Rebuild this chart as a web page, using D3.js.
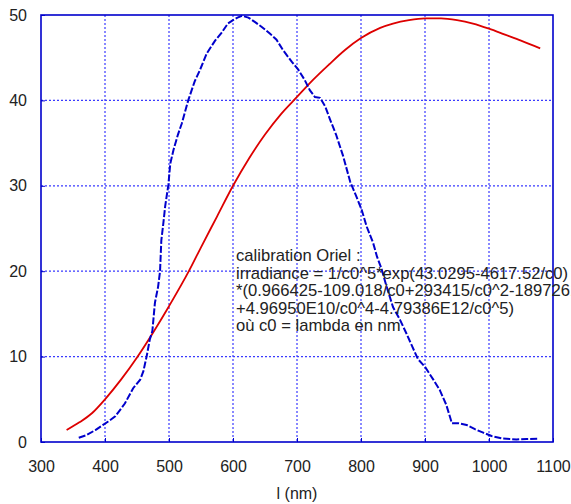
<!DOCTYPE html>
<html>
<head>
    <meta charset="utf-8">
    <title>calibration Oriel</title>
    <script src="https://cdn.jsdelivr.net/npm/d3@7/dist/d3.min.js"></script>
    <style>
        body { margin: 0; background: #fff; }
        text { font-family: "Liberation Sans", Arial, sans-serif; fill: #222; }
    </style>
</head>
<body>
<script>
// Axis ticks
var xTicks = [300, 400, 500, 600, 700, 800, 900, 1000, 1100];
var yTicks = [0, 10, 20, 30, 40, 50];

// Measured lamp spectrum (blue, dashed)
var measuredNm = [359, 371, 385, 397, 405, 416, 431, 444, 455, 460, 465, 470, 474, 478, 483, 486, 488, 491, 494, 499,
    502, 507, 514, 520, 530, 540, 548, 559, 572, 582, 592, 600, 607, 614, 624, 634, 645, 658, 668, 678,
    692, 702, 712, 720, 728, 736, 744, 752, 761, 772, 783, 793, 801, 809, 819, 825, 832, 840, 850, 861,
    871, 880, 889, 900, 913, 923, 933, 938, 942, 952, 965, 978, 991, 1004, 1022, 1043, 1059, 1078];
var measuredVal = [0.5, 0.8, 1.4, 2.0, 2.4, 3.0, 4.5, 6.3, 7.3, 8.3, 10, 12, 13, 16.3, 18.2, 20, 23.6, 25.5, 27.6, 30.1,
    32.6, 34.2, 36, 37.3, 40, 42.2, 43.5, 45.5, 47, 47.9, 49, 49.4, 49.7, 49.9, 49.7, 49.2, 48.6, 47.8, 47.1, 45.9,
    44.5, 43.6, 42.4, 41.2, 40.4, 40.3, 39.3, 37.7, 36, 33.5, 30.5, 28.7, 27.2, 25.2, 23.3, 21.7, 20.3, 18.2, 15.8, 14.3,
    12.7, 11.2, 9.7, 8.8, 7.3, 6.1, 4.4, 3.2, 2.2, 2.2, 2.0, 1.5, 1.1, 0.7, 0.4, 0.3, 0.35, 0.4];

// Oriel calibration curve (red)
var calibNm = [340, 360, 380, 400, 425, 450, 475, 500, 531, 550, 575, 600, 625, 650, 675, 700, 725, 750, 775, 800,
    830, 850, 875, 900, 925, 950, 975, 1000, 1025, 1050, 1080];
var calibVal = [1.4, 2.3, 3.4, 5.0, 7.3, 9.9, 12.8, 15.9, 20, 22.8, 26.4, 30, 33.2, 36, 38.4, 40.4, 42.4, 44.2, 45.9, 47.3,
    48.5, 49.0, 49.4, 49.6, 49.6, 49.4, 49.0, 48.4, 47.7, 47.0, 46.1];

var noteLines = [
    'calibration Oriel :',
    'irradiance = 1/c0^5*exp(43.0295-4617.52/c0)',
    '*(0.966425-109.018/c0+293415/c0^2-1897261/c0^3',
    '+4.96950E10/c0^4-4.79386E12/c0^5)',
    'où c0 = lambda en nm'
];
var xLabel = 'l (nm)';

var width = 571, height = 504;
// plot box (don't call it "top", that's window.top)
var pLeft = 41, pRight = 553, pTop = 15, pBottom = 442;
var blue = '#0000cc', grid = '#3a3aff', red = '#dd0000';

var svg = d3.select('body').append('svg')
    .attr('width', width)
    .attr('height', height);

var x = d3.scaleLinear().domain([300, 1100]).range([pLeft, pRight]);
var y = d3.scaleLinear().domain([0, 50]).range([pBottom, pTop]);

// dotted grid
svg.append('g').selectAll('line')
    .data(xTicks.slice(1, -1))
    .enter().append('line')
    .attr('x1', function(d) { return x(d); })
    .attr('x2', function(d) { return x(d); })
    .attr('y1', pTop).attr('y2', pBottom)
    .attr('stroke', grid).attr('stroke-width', 1.2)
    .attr('stroke-dasharray', '2,2');
svg.append('g').selectAll('line')
    .data(yTicks.slice(1, -1))
    .enter().append('line')
    .attr('y1', function(d) { return y(d); })
    .attr('y2', function(d) { return y(d); })
    .attr('x1', pLeft).attr('x2', pRight)
    .attr('stroke', grid).attr('stroke-width', 1.2)
    .attr('stroke-dasharray', '2,2');

// axes (labels + small inner ticks)
var xAxis = svg.append('g')
    .attr('transform', 'translate(0,' + pBottom + ')')
    .call(d3.axisBottom(x).tickValues(xTicks).tickFormat(d3.format('d')).tickSize(-4).tickPadding(19));
var yAxis = svg.append('g')
    .attr('transform', 'translate(' + pLeft + ',0)')
    .call(d3.axisLeft(y).tickValues(yTicks).tickFormat(d3.format('d')).tickSize(-4).tickPadding(14));
[xAxis, yAxis].forEach(function(a) {
    a.select('.domain').remove();
    a.selectAll('line').attr('stroke', blue);
    a.selectAll('text')
        .style('font-family', '"Liberation Sans", Arial, sans-serif')
        .style('font-size', '16px')
        .attr('fill', '#222');
});

// frame
svg.append('rect')
    .attr('x', pLeft).attr('y', pTop)
    .attr('width', pRight - pLeft).attr('height', pBottom - pTop)
    .attr('fill', 'none').attr('stroke', blue).attr('stroke-width', 1.6);

// curves
var line = d3.line()
    .x(function(d) { return x(d[0]); })
    .y(function(d) { return y(d[1]); });

svg.append('path')
    .datum(d3.zip(calibNm, calibVal))
    .attr('d', line.curve(d3.curveMonotoneX))
    .attr('fill', 'none').attr('stroke', red).attr('stroke-width', 1.8);

svg.append('path')
    .datum(d3.zip(measuredNm, measuredVal))
    .attr('d', line.curve(d3.curveLinear))
    .attr('fill', 'none').attr('stroke', blue).attr('stroke-width', 2)
    .attr('stroke-dasharray', '7,2');

// annotation
svg.append('g').selectAll('text')
    .data(noteLines)
    .enter().append('text')
    .attr('x', 236)
    .attr('y', function(d, i) { return 261 + i * 17.5; })
    .style('font-size', '16.6px')
    .text(function(d) { return d; });

svg.append('text')
    .attr('x', (pLeft + pRight) / 2)
    .attr('y', 499)
    .attr('text-anchor', 'middle')
    .style('font-size', '16px')
    .text(xLabel);
</script>
</body>
</html>
